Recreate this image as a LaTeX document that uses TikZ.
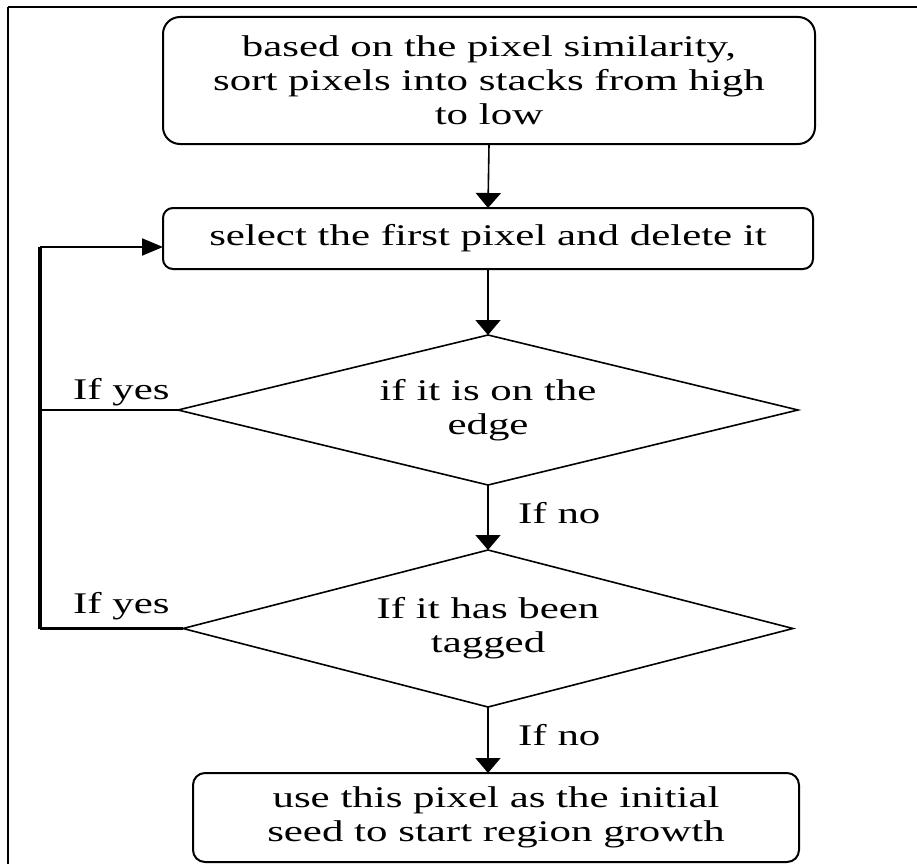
\documentclass[tikz,border=0pt]{standalone}
\usepackage{fontspec}
\setmainfont{Liberation Serif}[FakeStretch=1.43]
\usetikzlibrary{arrows.meta,shapes.geometric}
\begin{document}
\begin{tikzpicture}[x=1pt,y=-1pt,
  box/.style={draw, line width=2pt, align=center, inner sep=0pt, outer sep=0pt},
  dia/.style={draw, diamond, line width=1.6pt, inner sep=0pt, outer sep=0pt},
  txt/.style={align=center, inner sep=0pt},
  conn/.style={line width=1.6pt},
  varr/.style={conn, -{Triangle[length=15pt,width=25pt]}},
  harr/.style={conn, -{Triangle[length=21pt,width=17pt]}},
  lbl/.style={anchor=base west, inner sep=0pt},
  font=\fontsize{30}{34}\selectfont]
\useasboundingbox (0,0) rectangle (917,864);
% frame
\draw[line width=2.5pt] (8,7) -- (917,7);
\draw[line width=1.2pt] (8,7) -- (8,864);
% boxes
\node[box, rounded corners=17pt, minimum width=652pt, minimum height=127pt] (b1) at (489,80.5)
  {based on the pixel similarity,\\sort pixels into stacks from high\\to low};
\node[box, rounded corners=10pt, minimum width=650pt, minimum height=61pt] (b2) at (488,238.5)
  {select the first pixel and delete it};
\node[dia, minimum width=620pt, minimum height=150pt] (d1) at (488,410) {};
\node[txt] (d1t) at (d1.center) {if it is on the\\edge};
\node[dia, minimum width=610pt, minimum height=157pt] (d2) at (488,628.5) {};
\node[txt] (d2t) at (d2.center) {If it has been\\tagged};
\node[box, rounded corners=12pt, minimum width=606pt, minimum height=89pt] (b3) at (496,817.5)
  {use this pixel as the initial\\seed to start region growth};
% labels
\node[lbl] (y1) at (73,399) {If yes};
\node[lbl] (y2) at (73,613) {If yes};
\node[lbl] (n1) at (518,523) {If no};
\node[lbl] (n2) at (518,745) {If no};
% connectors
\draw[varr] (b1.south) -- (b2.north);
\draw[varr] (b2.south) -- (d1.north);
\draw[varr] (d1.south) -- (d2.north);
\draw[varr] (d2.south) -- (d2.south |- b3.north);
% loop
\coordinate (lt) at (40,247);
\coordinate (lb) at (40,628.5);
\draw[line width=2pt] (d1.west) -- (d1.west -| lt);
\draw[line width=3pt] (d2.west) -- (lb);
\draw[line width=3.5pt] (lb) -- (lt);
\draw[harr, line width=2pt] (lt) -- (b2.west |- lt);
\end{tikzpicture}
\end{document}
